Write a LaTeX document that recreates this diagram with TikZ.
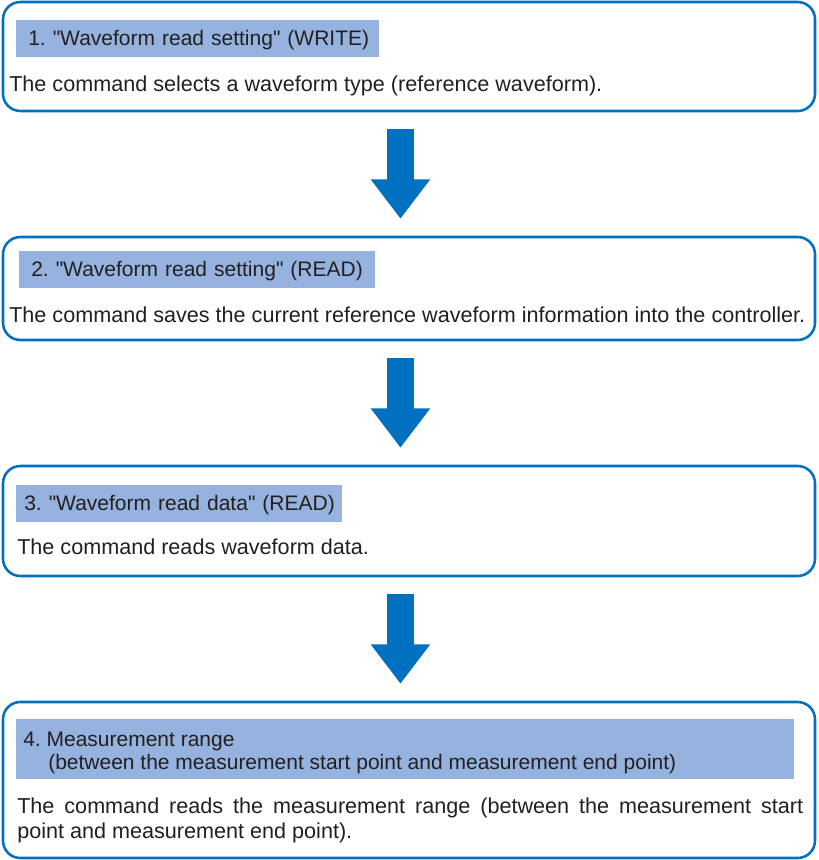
\documentclass[tikz,border=0pt]{standalone}
\usepackage{xcolor}
\usepackage{fontspec}
\setmainfont{Liberation Sans}[Ligatures=TeXOff]
\usepackage{tikz}
\usetikzlibrary{arrows.meta,positioning,calc}
\definecolor{flowBlue}{HTML}{0070C0}
\definecolor{headFill}{HTML}{95B3DE}
\definecolor{ink}{HTML}{231F20}
\frenchspacing

\begin{document}
\begin{tikzpicture}[x=0.75pt,y=-0.75pt,
    stepbox/.style={draw=flowBlue,line width=1.9pt,rounded corners=13pt,minimum width=609pt,inner sep=0pt},
    headbar/.style={fill=headFill,anchor=north west,inner xsep=9pt,inner ysep=0pt,minimum height=27.75pt,align=left,text depth=2pt,font=\fontsize{15.75}{17.25}\selectfont,text=ink},
    headtext/.style={anchor=base west,inner sep=0pt,font=\fontsize{15.75}{17.25}\selectfont,text=ink},
    bodytext/.style={anchor=base west,inner sep=0pt,font=\fontsize{16.2}{18.75}\selectfont,text=ink},
    flowarrow/.style={flowBlue,line width=20.25pt,-{Triangle[width=42.75pt,length=29.6pt]}}]
    \useasboundingbox (0,0) rectangle (818,860);

    \node[stepbox,minimum height=81.75pt] (step1) at (409,56.5) {};
    \node[stepbox,minimum height=77.25pt] (step2) at (409,288.5) {};
    \node[stepbox,minimum height=82.5pt] (step3) at (409,521) {};
    \node[stepbox,minimum height=117pt] (step4) at (409,780) {};

    \node[headbar,text width=254.25pt] (head1) at (16,20) {\mbox{1. "Waveform read setting" (WRITE)}};
    \node[headbar,text width=249pt] (head2) at (19,251) {\mbox{2. "Waveform read setting" (READ)}};
    \node[headbar,text width=232.5pt,inner xsep=6pt] (head3) at (16,485) {\mbox{3. "Waveform read data" (READ)}};
    \node[headbar,inner sep=0pt,minimum width=583.5pt,minimum height=45pt] (head4) at (16,719) {};
    \node[headtext] (head4a) at (23,746) {4. Measurement range};
    \node[headtext] (head4b) at (48,769) {(between the measurement start point and measurement end point)};

    \node[bodytext] (body1) at (9,91) {The command selects a waveform type (reference waveform).};
    \node[bodytext] (body2) at (9,322) {The command saves the current reference waveform information into the controller.};
    \node[bodytext] (body3) at (17,554) {The command reads waveform data.};
    \node[bodytext,text width=589.5pt,align=justify] (body4) at (17,813)
      {The command reads the measurement range (between the measurement start\linebreak point and measurement end point).};

    \draw[flowarrow] ([xshift=-6.4pt,yshift=-12.75pt]step1.south) -- ([xshift=-6.4pt,yshift=12.75pt]step2.north);
    \draw[flowarrow] ([xshift=-6.4pt,yshift=-12.75pt]step2.south) -- ([xshift=-6.4pt,yshift=12.75pt]step3.north);
    \draw[flowarrow] ([xshift=-6.4pt,yshift=-12.75pt]step3.south) -- ([xshift=-6.4pt,yshift=12.75pt]step4.north);
  \end{tikzpicture}
\end{document}
